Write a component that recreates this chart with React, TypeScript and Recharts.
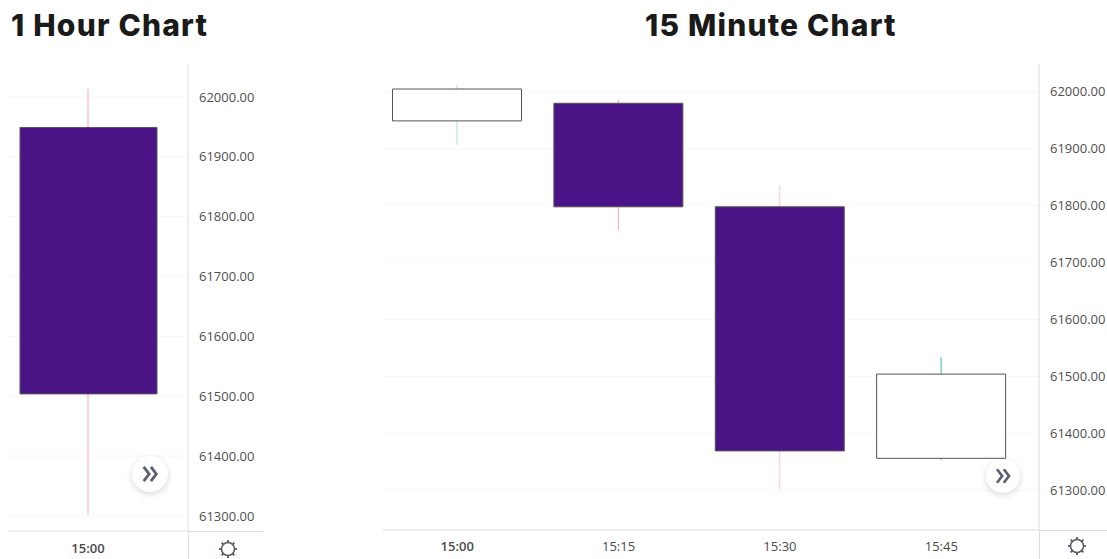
import { Bar, CartesianGrid, Cell, ComposedChart, XAxis, YAxis } from 'recharts'

const priceTicksHour = [62000, 61900, 61800, 61700, 61600, 61500, 61400, 61300]
const priceTicksQuarter = [62000, 61900, 61800, 61700, 61600, 61500, 61400, 61300]

const hourTimes = ['15:00']
const hourOpen = [61949]
const hourClose = [61504]
const hourHigh = [62013]
const hourLow = [61302]
const hourWicks = ['#fbd0dc']

const quarterTimes = ['15:00', '15:15', '15:30', '15:45']
const quarterOpen = [61949, 61980, 61798, 61356]
const quarterClose = [62005, 61798, 61369, 61504]
const quarterHigh = [62012, 61986, 61836, 61534]
const quarterLow = [61907, 61757, 61302, 61353]
const quarterWicks = ['#a8e2db', '#f9a8c0', '#f9c3d2', '#4db6ac']

const PURPLE = '#4a1486'
const GRID = '#f6f6fb'
const AXIS = '#dcdce6'
const FONT = '"Open Sans", Roboto, sans-serif'

interface CandleChartProps {
  left: number
  width: number
  axisWidth: number
  axisHeight: number
  barSize: number
  wickSize: number
  padLeft: number
  padRight: number
  labelOffset: number
  domain: [number, number]
  ticks: number[]
  times: string[]
  open: number[]
  close: number[]
  high: number[]
  low: number[]
  wicks: string[]
}

function CandleChart(props: CandleChartProps) {
  const { times, open, close, high, low, wicks } = props
  const rows = times.map((time, i) => ({
    time,
    body: [Math.min(open[i], close[i]), Math.max(open[i], close[i])],
    wick: [low[i], high[i]],
  }))
  const padding = { left: props.padLeft, right: props.padRight }

  return (
    <div style={{ position: 'absolute', left: props.left, top: 64 }}>
      <ComposedChart
        width={props.width}
        height={495}
        data={rows}
        margin={{ top: 0, right: 0, bottom: 0, left: 0 }}
      >
        <CartesianGrid vertical={false} stroke={GRID} horizontalValues={props.ticks} />
        <XAxis
          dataKey="time"
          height={props.axisHeight}
          padding={padding}
          stroke={AXIS}
          tickLine={false}
          interval={0}
          tick={(t: any) => (
            <text
              x={t.x}
              y={t.y + props.labelOffset}
              textAnchor="middle"
              fontFamily={FONT}
              fontSize={13}
              fontWeight={t.index === 0 ? 600 : 400}
              fill="#4a4a4a"
            >
              {t.payload.value}
            </text>
          )}
        />
        <XAxis xAxisId="wick" dataKey="time" hide padding={padding} />
        <YAxis
          orientation="right"
          width={props.axisWidth}
          domain={props.domain}
          ticks={props.ticks}
          allowDataOverflow
          stroke={AXIS}
          tickLine={false}
          tickMargin={5}
          tick={{ fontSize: 13, fontFamily: FONT, fill: '#4f4f4f' }}
          tickFormatter={(v: number) => v.toFixed(2)}
        />
        <Bar xAxisId="wick" dataKey="wick" barSize={props.wickSize} isAnimationActive={false}>
          {rows.map((_, i) => (
            <Cell key={i} fill={wicks[i]} />
          ))}
        </Bar>
        <Bar dataKey="body" barSize={props.barSize} isAnimationActive={false}>
          {rows.map((_, i) => (
            <Cell
              key={i}
              fill={close[i] < open[i] ? PURPLE : '#ffffff'}
              stroke="#555555"
              strokeWidth={1}
            />
          ))}
        </Bar>
      </ComposedChart>
    </div>
  )
}

function Title({ left, text }: { left: number; text: string }) {
  return (
    <div
      style={{
        position: 'absolute',
        left,
        top: 6,
        fontFamily: 'Inter, sans-serif',
        fontWeight: 800,
        fontSize: 30,
        letterSpacing: 1.2,
        lineHeight: '38px',
        color: '#1a1a1a',
        whiteSpace: 'nowrap',
      }}
    >
      {text}
    </div>
  )
}

function Line({ left, top, width, height }: { left: number; top: number; width: number; height: number }) {
  return <div style={{ position: 'absolute', left, top, width, height, background: AXIS }} />
}

// scroll-to-latest button on the price pane
function ScrollButton({ cx, cy, r }: { cx: number; cy: number; r: number }) {
  return (
    <div
      style={{
        position: 'absolute',
        left: cx - r,
        top: cy - r,
        width: r * 2,
        height: r * 2,
        borderRadius: '50%',
        background: '#fff',
        boxShadow: '0 2px 6px rgba(40,40,60,0.18)',
      }}
    >
      <svg width={r * 2} height={r * 2} viewBox="-10 -10 20 20" style={{ display: 'block' }}>
        <path
          d="M-3.5 -4 L-0.5 0 L-3.5 4 M0.5 -4 L3.5 0 L0.5 4"
          fill="none"
          stroke="#5d6070"
          strokeWidth={1.6}
        />
      </svg>
    </div>
  )
}

function Gear({ cx, cy }: { cx: number; cy: number }) {
  const rays = [0, 45, 90, 135, 180, 225, 270, 315]
  return (
    <svg
      width={22}
      height={22}
      viewBox="-11 -11 22 22"
      style={{ position: 'absolute', left: cx - 11, top: cy - 11 }}
    >
      <circle r={6.5} fill="none" stroke="#555a66" strokeWidth={1.5} />
      {rays.map((a) => (
        <line key={a} y1={-6.5} y2={-9} stroke="#555a66" strokeWidth={1.8} transform={`rotate(${a})`} />
      ))}
    </svg>
  )
}

export default function App() {
  return (
    <div style={{ position: 'absolute', left: 0, top: 0, width: 1107, height: 559, overflow: 'hidden', background: '#fff' }}>
      <Title left={11} text="1 Hour Chart" />
      <Title left={645} text="15 Minute Chart" />

      <CandleChart
        left={8}
        width={255}
        axisWidth={75}
        axisHeight={28}
        barSize={137}
        wickSize={2}
        padLeft={0}
        padRight={20}
        labelOffset={14}
        domain={[61275, 62055]}
        ticks={priceTicksHour}
        times={hourTimes}
        open={hourOpen}
        close={hourClose}
        high={hourHigh}
        low={hourLow}
        wicks={hourWicks}
      />
      <CandleChart
        left={383}
        width={724}
        axisWidth={68}
        axisHeight={29}
        barSize={129}
        wickSize={1}
        padLeft={-6.5}
        padRight={17}
        labelOffset={13}
        domain={[61230, 62049]}
        ticks={priceTicksQuarter}
        times={quarterTimes}
        open={quarterOpen}
        close={quarterClose}
        high={quarterHigh}
        low={quarterLow}
        wicks={quarterWicks}
      />

      {/* the price and time scales run on past the plot area */}
      <Line left={188} top={531} width={75} height={1} />
      <Line left={188} top={531} width={1} height={28} />
      <Line left={1039} top={530} width={68} height={1} />
      <Line left={1039} top={530} width={1} height={29} />

      <ScrollButton cx={150} cy={474} r={18} />
      <ScrollButton cx={1003} cy={476} r={17} />
      <Gear cx={228} cy={549} />
      <Gear cx={1077} cy={546} />
    </div>
  )
}
